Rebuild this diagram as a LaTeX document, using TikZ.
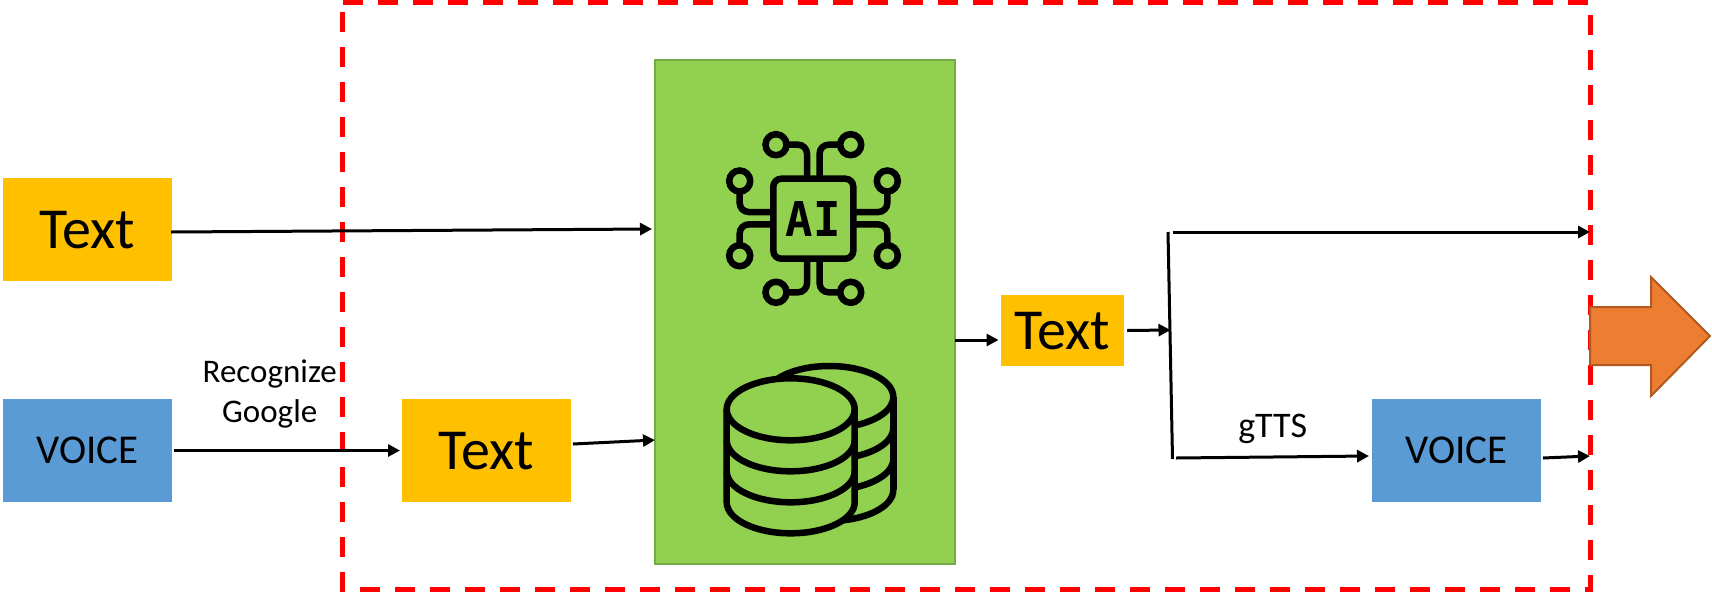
\documentclass[tikz,border=0pt]{standalone}
\usepackage{fontspec}
\setmainfont{Carlito}
\newfontfamily\aimono{DejaVu Sans Mono}[FakeStretch=0.95]
\usetikzlibrary{arrows.meta,calc}
\definecolor{cText}{HTML}{FFC000}
\definecolor{cVoice}{HTML}{5B9BD5}
\definecolor{cCore}{HTML}{92D050}
\definecolor{cCoreLine}{HTML}{70AD47}
\definecolor{cOut}{HTML}{ED7D31}
\definecolor{cOutLine}{HTML}{AE5A21}
\tikzset{
  x=1pt,y=-1pt,
  plainbox/.style={inner sep=0pt,outer sep=0pt,text=black,text depth=0pt},
  textbox/.style={plainbox,fill=cText,font=\fontsize{58}{58}\selectfont},
  voicebox/.style={plainbox,fill=cVoice,font=\fontsize{41}{41}\selectfont,minimum width=169pt,minimum height=103pt},
  bigbox/.style={textbox,minimum width=169pt,minimum height=103pt},
  smallbox/.style={textbox,minimum width=123pt,minimum height=71pt},
  corebox/.style={plainbox,fill=cCore,draw=cCoreLine,line width=2pt,minimum width=300pt,minimum height=504pt},
  label/.style={inner sep=0pt,outer sep=0pt,font=\fontsize{33}{40}\selectfont,align=center},
  gttslabel/.style={inner sep=0pt,outer sep=0pt,font=\fontsize{36}{40}\selectfont},
  conn/.style={draw=black,line width=3pt,-{Triangle[length=12pt,width=12pt]}},
  bar/.style={draw=black,line width=3pt},
  frameline/.style={draw=red,line width=5pt,dash pattern=on 20pt off 15pt},
  icon/.style={draw=black,line width=6.5pt},
  trace/.style={icon,rounded corners=9pt},
}
\begin{document}
\begin{tikzpicture}
\useasboundingbox (0,0) rectangle (1712,592);
% dashed frame
\draw[frameline] (342.5,2.3) -- (1590.3,2.3) -- (1590.3,589.5) -- (342.5,589.5) -- cycle;
% boxes
\node[bigbox] (text1) at (87.5,229.5) {Text};
\node[voicebox] (voice1) at (87.5,450.5) {VOICE};
\node[bigbox] (text2) at (486.5,450.5) {Text};
\node[corebox] (core) at (805,312) {};
\node[smallbox] (text3) at (1062.5,330.5) {Text};
\node[voicebox] (voice2) at (1456.5,450.5) {VOICE};
% AI chip icon
\node[icon,inner sep=0pt,outer sep=0pt,minimum size=80pt,rounded corners=8pt] (chip) at (813.3,218.7) {};
\node[inner sep=0pt,font=\aimono\bfseries\fontsize{48}{48}\selectfont] (ailabel) at (813.3,218.7) {AI};
\foreach \n/\cx/\cy in {a/776/144.7,b/850.7/144.7,c/739.7/181,d/887.3/181,e/739.7/255.7,f/887.3/255.7,g/776/292.3,h/850.7/292.3}{
  \node[icon,circle,inner sep=0pt,outer sep=0pt,minimum size=21pt] (pad\n) at (\cx,\cy) {};
}
\draw[trace] (pada.east) -| ($(chip.north)+(-6.3pt,0)$);
\draw[trace] (padb.west) -| ($(chip.north)+(6.3pt,0)$);
\draw[trace] (padc.south) |- ($(chip.west)+(0,6.7pt)$);
\draw[trace] (pade.north) |- ($(chip.west)+(0,-5.7pt)$);
\draw[trace] (padd.south) |- ($(chip.east)+(0,6.7pt)$);
\draw[trace] (padf.north) |- ($(chip.east)+(0,-5.7pt)$);
\draw[trace] (padg.east) -| ($(chip.south)+(-6.3pt,0)$);
\draw[trace] (padh.west) -| ($(chip.south)+(6.3pt,0)$);
% database icon: back stack
\foreach \yy in {428,459}{
  \draw[icon] (893.3,\yy) arc[start angle=0,end angle=-90,x radius=64pt,y radius=31pt];
}
\draw[icon] (893.3,397) -- (893.3,490);
\draw[icon] (829.3,397) circle[x radius=64pt,y radius=31pt];
\draw[icon] (893.3,490) arc[start angle=0,end angle=-90,x radius=64pt,y radius=31pt];
% database icon: front stack
\fill[cCore] (726.7,409.3) -- (726.7,502.3) arc[start angle=180,end angle=360,x radius=64pt,y radius=31pt] -- (854.7,409.3) -- cycle;
\draw[icon,fill=cCore] (790.7,409.3) circle[x radius=64pt,y radius=31pt];
\foreach \yy in {440.3,471.3}{
  \draw[icon] (726.7,\yy) arc[start angle=180,end angle=360,x radius=64pt,y radius=31pt];
}
\draw[icon] (726.7,409.3) -- (726.7,502.3) arc[start angle=180,end angle=360,x radius=64pt,y radius=31pt] -- (854.7,409.3);
% labels
\node[label,anchor=base] (rec) at (269.7,422.7) {Recognize\\Google};
\node[gttslabel,anchor=base] (gtts) at (1272.7,437) {gTTS};
% split bar and free ends
\coordinate (bartop) at (1168,232);
\coordinate (barbot) at (1172.5,459);
\coordinate (up) at (1172.5,232);
\coordinate (low) at (1176,458);
\coordinate (outa) at (1590,232);
\coordinate (outb) at (1590,456);
\coordinate (barmid) at (1170.5,330);
% connectors
\draw[conn] ([xshift=-1pt,yshift=-2.5pt]text1.east) -- ([xshift=-3pt,yshift=83pt]core.west);
\draw[conn] ([xshift=2pt]voice1.east) -- ([xshift=-2pt]text2.west);
\draw[conn] ([xshift=2pt,yshift=6.5pt]text2.east) -- ([yshift=-128pt]core.west);
\draw[conn] ([yshift=-28pt]core.east) -- ([xshift=-2.5pt,yshift=-9.5pt]text3.west);
\draw[conn] ([xshift=3pt]text3.east) -- (barmid);
\draw[bar] (bartop) -- (barbot);
\draw[conn] (up) -- (outa);
\draw[conn] (low) -- ([xshift=-3pt,yshift=-5.5pt]voice2.west);
\draw[conn] ([xshift=2pt,yshift=-7.5pt]voice2.east) -- (outb);
% output arrow
\draw[draw=cOutLine,fill=cOut,line width=2pt,line join=miter] (1590,307) -- (1651,307) -- (1651,277) -- (1710,336) -- (1651,396) -- (1651,365) -- (1590,365) -- cycle;
\end{tikzpicture}
\end{document}
